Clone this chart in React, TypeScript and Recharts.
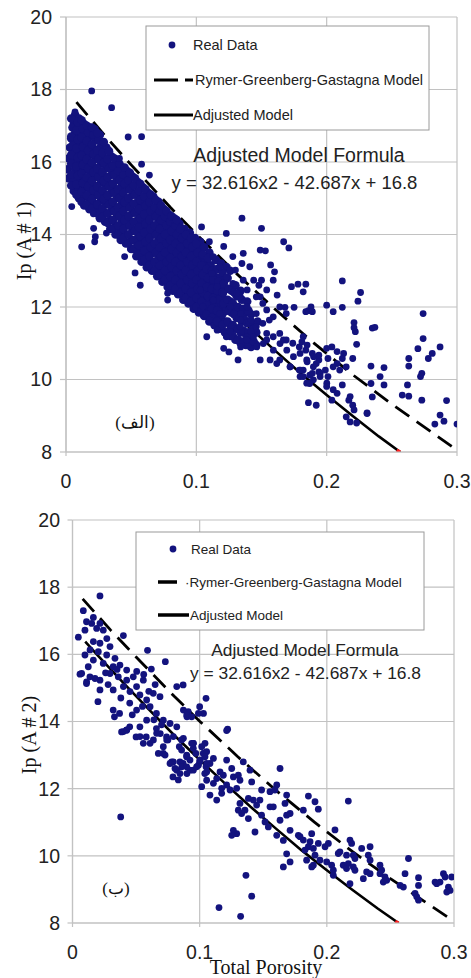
import React from 'react';
import { ComposedChart, Scatter, Line, XAxis, YAxis, CartesianGrid } from 'recharts';

const xTicks = [0, 0.1, 0.2, 0.3];
const yTicks = [8, 10, 12, 14, 16, 18, 20];

const adjustedModelX = [0.01, 0.02, 0.04, 0.06, 0.08, 0.1, 0.12, 0.14, 0.16, 0.18, 0.2, 0.22, 0.24, 0.2564];
const adjustedModelY = [16.38, 15.96, 15.15, 14.36, 13.59, 12.86, 12.15, 11.46, 10.81, 10.17, 9.57, 8.99, 8.43, 8.0];

const rggModelX = [0.008, 0.03, 0.05, 0.08, 0.1, 0.13, 0.16, 0.19, 0.22, 0.25, 0.28, 0.3];
const rggModelY = [17.65, 16.72, 15.92, 14.75, 14.01, 12.95, 11.95, 11.01, 10.13, 9.32, 8.56, 8.05];

const redTipX = [0.2538, 0.2564];
const redTipY = [8.05, 8.0];

// Top panel: the dense, overlapping core of the real data
const topCoreData: [number, number][] = [
  [0.001,15.8],[0.002,16.1],[0.003,16.4],[0.002,15.55],[0.004,16.65],
  [0.006,15.2],[0.006,15.5],[0.007,15.8],[0.006,16.05],[0.007,16.3],[0.006,16.55],[0.007,16.8],[0.006,17.05],[0.007,17.3],
  [0.010,15.0],[0.010,15.25],[0.011,15.5],[0.010,15.75],[0.011,16.0],[0.010,16.25],[0.011,16.5],[0.010,16.75],[0.011,17.0],[0.010,17.2],
  [0.014,14.8],[0.014,15.05],[0.015,15.3],[0.014,15.55],[0.015,15.8],[0.014,16.05],[0.015,16.3],[0.014,16.55],[0.015,16.8],[0.014,17.05],
  [0.018,14.7],[0.018,14.95],[0.019,15.2],[0.018,15.45],[0.019,15.7],[0.018,15.95],[0.019,16.2],[0.018,16.45],[0.019,16.7],[0.018,16.95],
  [0.022,14.6],[0.022,14.85],[0.023,15.1],[0.022,15.35],[0.023,15.6],[0.022,15.85],[0.023,16.1],[0.022,16.35],[0.023,16.6],[0.022,16.9],
  [0.026,14.45],[0.026,14.7],[0.027,14.95],[0.026,15.2],[0.027,15.45],[0.026,15.7],[0.027,15.95],[0.026,16.2],[0.027,16.45],[0.026,16.75],
  [0.030,14.35],[0.030,14.6],[0.031,14.85],[0.030,15.1],[0.031,15.35],[0.030,15.6],[0.031,15.85],[0.030,16.1],[0.031,16.4],
  [0.034,14.15],[0.034,14.4],[0.035,14.65],[0.034,14.9],[0.035,15.15],[0.034,15.4],[0.035,15.65],[0.034,15.9],[0.035,16.15],
  [0.038,14.0],[0.038,14.25],[0.039,14.5],[0.038,14.75],[0.039,15.0],[0.038,15.25],[0.039,15.5],[0.038,15.75],[0.039,16.0],
  [0.042,13.85],[0.042,14.1],[0.043,14.35],[0.042,14.6],[0.043,14.85],[0.042,15.1],[0.043,15.35],[0.042,15.6],[0.043,15.85],
  [0.046,13.75],[0.046,14.0],[0.047,14.25],[0.046,14.5],[0.047,14.75],[0.046,15.0],[0.047,15.25],[0.046,15.5],[0.047,15.75],
  [0.050,13.6],[0.050,13.85],[0.051,14.1],[0.050,14.35],[0.051,14.6],[0.050,14.85],[0.051,15.1],[0.050,15.35],[0.051,15.6],
  [0.054,13.4],[0.054,13.65],[0.055,13.9],[0.054,14.15],[0.055,14.4],[0.054,14.65],[0.055,14.9],[0.054,15.15],[0.055,15.45],
  [0.058,13.25],[0.058,13.5],[0.059,13.75],[0.058,14.0],[0.059,14.25],[0.058,14.5],[0.059,14.75],[0.058,15.0],[0.059,15.3],
  [0.062,13.1],[0.062,13.35],[0.063,13.6],[0.062,13.85],[0.063,14.1],[0.062,14.35],[0.063,14.6],[0.062,14.85],[0.063,15.15],
  [0.066,13.0],[0.066,13.25],[0.067,13.5],[0.066,13.75],[0.067,14.0],[0.066,14.25],[0.067,14.5],[0.066,14.75],[0.067,15.05],
  [0.070,12.85],[0.070,13.1],[0.071,13.35],[0.070,13.6],[0.071,13.85],[0.070,14.1],[0.071,14.35],[0.070,14.6],[0.071,14.9],
  [0.074,12.7],[0.074,12.95],[0.075,13.2],[0.074,13.45],[0.075,13.7],[0.074,13.95],[0.075,14.2],[0.074,14.45],[0.075,14.7],
  [0.078,12.55],[0.078,12.8],[0.079,13.05],[0.078,13.3],[0.079,13.55],[0.078,13.8],[0.079,14.05],[0.078,14.3],[0.079,14.55],
  [0.082,12.45],[0.082,12.7],[0.083,12.95],[0.082,13.2],[0.083,13.45],[0.082,13.7],[0.083,13.95],[0.082,14.2],[0.083,14.45],
  [0.086,12.35],[0.086,12.6],[0.087,12.85],[0.086,13.1],[0.087,13.35],[0.086,13.6],[0.087,13.85],[0.086,14.1],[0.087,14.3],
  [0.090,12.2],[0.090,12.45],[0.091,12.7],[0.090,12.95],[0.091,13.2],[0.090,13.45],[0.091,13.7],[0.090,13.95],[0.091,14.15],
  [0.094,12.1],[0.094,12.35],[0.095,12.6],[0.094,12.85],[0.095,13.1],[0.094,13.35],[0.095,13.6],[0.094,13.85],[0.095,14.05],
  [0.098,11.95],[0.098,12.2],[0.099,12.45],[0.098,12.7],[0.099,12.95],[0.098,13.2],[0.099,13.45],[0.098,13.7],[0.099,13.9],
  [0.102,11.85],[0.102,12.1],[0.103,12.35],[0.102,12.6],[0.103,12.85],[0.102,13.1],[0.103,13.35],[0.102,13.6],[0.103,13.8],
  [0.106,11.75],[0.106,12.0],[0.107,12.25],[0.106,12.5],[0.107,12.75],[0.106,13.0],[0.107,13.25],[0.106,13.65],
  [0.110,11.6],[0.110,11.9],[0.111,12.15],[0.110,12.4],[0.111,12.65],[0.110,12.9],[0.111,13.15],[0.110,13.5],
  [0.114,11.5],[0.114,11.8],[0.115,12.1],[0.114,12.35],[0.115,12.6],[0.114,12.85],[0.115,13.3],
  [0.118,11.4],[0.118,11.7],[0.119,12.0],[0.118,12.3],[0.119,12.55],[0.118,12.8],[0.119,13.2],
  [0.122,11.3],[0.122,11.6],[0.123,11.9],[0.122,12.2],[0.123,12.5],[0.122,12.75],[0.123,13.1],
  [0.126,11.2],[0.126,11.5],[0.127,11.85],[0.126,12.15],[0.127,12.45],[0.126,13.0],
  [0.130,11.1],[0.130,11.4],[0.131,11.7],[0.130,12.0],[0.131,12.3],[0.130,12.6],
  [0.134,11.0],[0.134,11.3],[0.135,11.6],[0.134,11.9],[0.135,12.2],[0.134,12.45],
  [0.138,10.95],[0.138,11.25],[0.139,11.55],[0.138,11.85],[0.139,12.15],
  [0.142,10.9],[0.142,11.2],[0.143,11.5],[0.142,11.8],
  [0.146,10.95],[0.146,11.3],[0.147,11.6],
  [0.004,15.35],[0.004,15.65],[0.004,15.95],[0.004,16.2],[0.005,16.45],[0.004,16.7],[0.005,16.95],[0.004,17.2],
  [0.008,15.1],[0.008,15.38],[0.009,15.62],[0.008,15.88],[0.009,16.12],[0.008,16.38],[0.009,16.62],[0.008,16.88],[0.009,17.1],
  [0.012,14.9],[0.012,15.18],[0.013,15.42],[0.012,15.68],[0.013,15.92],[0.012,16.18],[0.013,16.42],[0.012,16.68],[0.013,16.92],[0.012,17.15],
  [0.016,14.82],[0.016,15.08],[0.017,15.32],[0.016,15.58],[0.017,15.82],[0.016,16.08],[0.017,16.32],[0.016,16.58],[0.017,16.82],[0.016,17.0],
  [0.020,14.72],[0.020,14.98],[0.021,15.22],[0.020,15.48],[0.021,15.72],[0.020,15.98],[0.021,16.22],[0.020,16.48],[0.021,16.75],[0.020,16.95],
  [0.024,14.58],[0.024,14.82],[0.025,15.08],[0.024,15.32],[0.025,15.58],[0.024,15.82],[0.025,16.08],[0.024,16.32],[0.025,16.6],[0.024,16.8],
  [0.028,14.48],[0.028,14.72],[0.029,14.98],[0.028,15.22],[0.029,15.48],[0.028,15.72],[0.029,15.98],[0.028,16.25],[0.029,16.55],
  [0.032,14.32],[0.032,14.58],[0.033,14.82],[0.032,15.08],[0.033,15.32],[0.032,15.58],[0.033,15.82],[0.032,16.08],[0.033,16.3],
  [0.036,14.15],[0.036,14.4],[0.037,14.65],[0.036,14.9],[0.037,15.15],[0.036,15.4],[0.037,15.65],[0.036,15.9],[0.037,16.1],
  [0.040,14.0],[0.040,14.25],[0.041,14.5],[0.040,14.75],[0.041,15.0],[0.040,15.25],[0.041,15.5],[0.040,15.75],[0.041,15.95],
  [0.044,13.9],[0.044,14.15],[0.045,14.4],[0.044,14.65],[0.045,14.9],[0.044,15.15],[0.045,15.4],[0.044,15.65],[0.045,15.85],
  [0.048,13.75],[0.048,14.0],[0.049,14.25],[0.048,14.5],[0.049,14.75],[0.048,15.0],[0.049,15.25],[0.048,15.5],[0.049,15.7],
  [0.052,13.6],[0.052,13.85],[0.053,14.1],[0.052,14.35],[0.053,14.6],[0.052,14.85],[0.053,15.1],[0.052,15.35],[0.053,15.55],
  [0.056,13.45],[0.056,13.7],[0.057,13.95],[0.056,14.2],[0.057,14.45],[0.056,14.7],[0.057,14.95],[0.056,15.2],[0.057,15.4],
  [0.060,13.3],[0.060,13.55],[0.061,13.8],[0.060,14.05],[0.061,14.3],[0.060,14.55],[0.061,14.8],[0.060,15.05],[0.061,15.25],
  [0.064,13.15],[0.064,13.4],[0.065,13.65],[0.064,13.9],[0.065,14.15],[0.064,14.4],[0.065,14.65],[0.064,14.9],[0.065,15.1],
  [0.068,13.0],[0.068,13.25],[0.069,13.5],[0.068,13.75],[0.069,14.0],[0.068,14.25],[0.069,14.5],[0.068,14.75],[0.069,14.95],
  [0.072,12.9],[0.072,13.15],[0.073,13.4],[0.072,13.65],[0.073,13.9],[0.072,14.15],[0.073,14.4],[0.072,14.65],[0.073,14.8],
  [0.076,12.75],[0.076,13.0],[0.077,13.25],[0.076,13.5],[0.077,13.75],[0.076,14.0],[0.077,14.25],[0.076,14.5],[0.077,14.65],
  [0.080,12.6],[0.080,12.85],[0.081,13.1],[0.080,13.35],[0.081,13.6],[0.080,13.85],[0.081,14.1],[0.080,14.35],[0.081,14.5],
  [0.084,12.5],[0.084,12.75],[0.085,13.0],[0.084,13.25],[0.085,13.5],[0.084,13.75],[0.085,14.0],[0.084,14.25],[0.085,14.4],
  [0.088,12.4],[0.088,12.65],[0.089,12.9],[0.088,13.15],[0.089,13.4],[0.088,13.65],[0.089,13.9],[0.088,14.15],
  [0.092,12.25],[0.092,12.5],[0.093,12.75],[0.092,13.0],[0.093,13.25],[0.092,13.5],[0.093,13.75],[0.092,14.0],
  [0.096,12.15],[0.096,12.4],[0.097,12.65],[0.096,12.9],[0.097,13.15],[0.096,13.4],[0.097,13.65],[0.096,13.9],
  [0.100,12.0],[0.100,12.25],[0.101,12.5],[0.100,12.75],[0.101,13.0],[0.100,13.25],[0.101,13.5],[0.100,13.75],
  [0.104,11.9],[0.104,12.15],[0.105,12.4],[0.104,12.65],[0.105,12.9],[0.104,13.15],[0.105,13.45],
  [0.108,11.8],[0.108,12.05],[0.109,12.3],[0.108,12.55],[0.109,12.8],[0.108,13.05],[0.109,13.35],
  [0.112,11.7],[0.112,11.95],[0.113,12.25],[0.112,12.5],[0.113,12.75],[0.112,13.0],
  [0.116,11.6],[0.116,11.9],[0.117,12.2],[0.116,12.45],[0.117,12.7],[0.116,13.05],
  [0.120,11.5],[0.120,11.8],[0.121,12.1],[0.120,12.4],[0.121,12.65],[0.120,12.95],
  [0.124,11.3],[0.124,11.6],[0.125,11.9],[0.124,12.2],[0.125,12.5],[0.124,12.8],
  [0.128,11.2],[0.128,11.5],[0.129,11.8],[0.128,12.1],[0.129,12.4],
  [0.132,11.1],[0.132,11.4],[0.133,11.7],[0.132,12.0],[0.133,12.3],
  [0.136,11.05],[0.136,11.35],[0.137,11.65],[0.136,11.95],
  [0.140,11.0],[0.140,11.3],[0.141,11.6],[0.140,11.9],
  [0.144,11.05],[0.144,11.4]
];

// Top panel: the scattered real data around the core
const topRealData: [number, number][] = [
  [0.0197,17.96],[0.035,17.5],[0.0069,17.38],[0.0477,16.69],[0.058,16.7],[0.041,16.1],[0.058,15.94],[0.064,15.64],
  [0.0044,14.77],[0.021,14.57],[0.012,13.66],[0.022,13.8],[0.0225,13.94],[0.0212,14.17],[0.031,14.04],
  [0.045,13.39],[0.053,12.94],[0.057,12.6],[0.078,12.38],[0.078,12.19],
  [0.135,14.45],[0.150,14.17],[0.104,14.21],[0.167,13.8],[0.171,13.63],
  [0.149,13.57],[0.153,13.55],[0.136,13.48],[0.135,13.2],[0.157,13.16],[0.160,12.97],[0.11,13.8],[0.150,12.74],[0.148,12.6],
  [0.173,12.56],[0.178,12.63],[0.184,12.63],[0.182,12.42],[0.162,12.33],[0.149,12.28],[0.168,11.99],[0.175,11.99],[0.184,11.87],[0.188,12.0],
  [0.134,10.9],[0.125,10.76],[0.121,10.86],[0.149,10.54],[0.132,10.54],[0.123,11.18],[0.126,11.32],
  [0.139,11.18],[0.142,11.32],[0.146,11.46],[0.151,11.55],[0.156,11.64],[0.154,11.09],[0.159,11.18],[0.164,11.27],
  [0.169,11.09],[0.174,11.0],[0.179,10.9],[0.184,10.81],[0.189,10.72],[0.194,10.54],
  [0.164,10.54],[0.172,10.35],[0.179,10.26],[0.187,10.12],[0.194,10.21],
  [0.134,11.82],[0.139,12.0],[0.142,11.64],[0.146,11.82],[0.154,11.92],[0.159,11.73],[0.164,12.0],[0.169,11.82],[0.151,12.1],
  [0.118,13.11],[0.123,12.83],[0.128,12.65],[0.116,12.56],[0.121,12.38],[0.131,12.38],[0.136,12.74],[0.113,12.19],[0.126,12.01],
  [0.139,12.47],[0.144,12.74],[0.118,11.82],[0.110,11.64],[0.105,12.01],[0.103,12.47],[0.141,13.11],[0.130,13.02],[0.112,12.93],
  [0.134,11.64],[0.146,12.28],[0.154,12.47],[0.159,12.74],[0.113,13.39],[0.121,13.67],[0.128,13.39],[0.123,14.03],[0.116,11.36],[0.108,11.18],
  [0.1335,11.46],[0.1387,11.09],[0.1438,11.18],[0.154,11.27],[0.1514,10.99],[0.1463,10.9],[0.1591,10.81],[0.1642,10.99],[0.1694,10.81],
  [0.1745,10.63],[0.1796,10.72],[0.1847,10.54],[0.1898,10.35],[0.195,10.17],[0.1719,10.35],[0.1668,11.09],[0.1617,10.44],[0.1566,10.54],
  [0.1796,10.08],[0.1847,9.9],[0.1898,9.99],[0.2001,9.9],
  [0.212,12.72],[0.226,12.40],[0.224,12.16],[0.200,12.05],[0.205,11.87],[0.212,11.99],[0.186,11.9],[0.189,11.87],
  [0.221,11.57],[0.221,11.43],[0.222,11.32],[0.235,11.42],[0.237,11.44],[0.274,11.82],[0.274,11.13],[0.270,10.85],
  [0.278,10.58],[0.281,10.72],[0.287,10.9],[0.223,10.97],[0.263,10.58],[0.263,10.37],[0.262,9.85],[0.258,9.57],[0.263,9.54],
  [0.273,10.17],[0.272,10.08],[0.273,9.43],[0.292,9.42],[0.287,9.02],[0.290,8.85],[0.283,8.77],[0.300,8.77],
  [0.234,10.37],[0.244,10.33],[0.241,10.08],[0.244,9.85],[0.234,9.89],[0.235,9.52],[0.231,9.08],
  [0.220,10.58],[0.213,10.72],[0.208,10.77],[0.204,10.9],[0.200,10.86],[0.212,10.58],[0.208,10.44],[0.215,10.35],[0.205,10.35],
  [0.210,10.26],[0.201,10.58],[0.194,10.67],[0.192,10.44],[0.190,10.63],[0.185,10.49],[0.182,10.26],[0.189,10.17],[0.195,10.08],
  [0.199,10.26],[0.201,10.08],[0.181,11.04],[0.185,10.95],[0.182,11.18],
  [0.200,9.81],[0.205,9.72],[0.208,9.62],[0.204,9.43],[0.212,9.85],[0.218,9.53],[0.217,9.43],[0.220,9.29],[0.221,9.16],
  [0.215,8.97],[0.218,8.83],[0.223,8.8],[0.231,9.06],[0.186,9.36],[0.192,9.29],[0.180,10.26],[0.182,10.08],[0.187,9.89]
];

const bottomRealData: [number, number][] = [
  [0.0216,17.74],[0.0085,17.30],[0.0164,17.10],[0.0151,16.92],[0.0216,16.92],[0.0242,16.72],[0.011,16.97],[0.019,16.77],[0.0098,16.72],
  [0.027,16.47],[0.0046,16.51],[0.040,16.56],[0.059,16.12],[0.073,15.78],[0.0505,15.49],[0.062,15.56],[0.0059,15.41],[0.011,15.13],
  [0.0216,15.23],[0.0137,15.33],[0.0177,15.28],[0.082,15.04],[0.087,15.09],[0.0216,14.94],[0.020,14.59],[0.105,14.69],[0.091,14.29],
  [0.09,14.14],[0.103,14.24],[0.100,14.44],[0.053,13.84],[0.045,13.84],[0.0386,13.69],[0.0425,13.74],[0.033,14.14],[0.037,14.24],
  [0.032,14.34],[0.050,13.54],[0.058,13.54],[0.061,13.35],[0.069,13.64],[0.066,13.79],[0.074,13.54],
  [0.0714,13.05],[0.078,12.8],[0.082,12.55],[0.079,12.35],[0.087,12.75],[0.090,12.95],[0.084,13.25],[0.095,13.35],[0.100,12.8],
  [0.097,13.05],[0.103,13.05],[0.104,12.45],[0.105,12.65],[0.090,12.45],[0.075,13.45],
  [0.0164,16.38],[0.0216,16.33],[0.0295,16.23],[0.0138,16.13],[0.0203,16.08],[0.0269,15.98],[0.0334,15.88],[0.0098,15.98],[0.0164,15.83],
  [0.0242,15.73],[0.032,15.63],[0.0124,15.63],[0.0373,15.68],[0.0426,15.53],[0.0295,15.43],[0.036,15.33],[0.0426,15.23],[0.0478,15.33],
  [0.040,15.04],[0.0452,14.89],[0.032,14.94],[0.0504,15.04],[0.0557,15.23],[0.053,14.79],[0.0583,14.64],[0.0635,14.84],[0.0688,14.74],
  [0.061,14.44],[0.0504,14.34],[0.066,14.24],[0.0714,14.04],[0.0583,14.04],[0.0767,13.94],[0.082,13.84],
  [0.0072,15.43],[0.0111,15.18],[0.122,13.77],
  [0.038,14.7],[0.045,14.55],[0.055,14.45],[0.064,14.05],[0.07,13.9],[0.047,14.2],[0.028,15.1],[0.035,15.55],[0.026,15.45],
  [0.06,14.9],[0.056,15.4],[0.065,15.1],
  [0.0872,14.34],[0.0898,14.19],[0.099,14.24],[0.0937,14.14],[0.1212,13.73],
  [0.0872,13.5],[0.095,13.35],[0.095,13.2],[0.1042,13.35],[0.103,13.05],[0.1055,13.1],[0.1003,12.85],[0.0924,12.85],[0.0898,13.0],
  [0.0845,12.8],[0.0859,12.65],[0.0924,12.55],[0.099,12.7],[0.1081,12.75],[0.1108,12.9],[0.1055,12.5],[0.116,12.5],[0.1186,12.4],
  [0.1134,12.3],[0.1212,12.11],[0.1173,12.01],[0.1108,12.16],[0.1016,12.06],[0.1055,12.25],[0.1081,11.81],[0.1134,11.66],[0.1173,11.86],
  [0.1239,11.96],[0.1291,12.01],[0.1317,12.25],[0.1265,12.35],[0.1212,12.85],[0.1252,12.6],[0.1304,12.4],[0.1343,12.8],[0.1396,12.55],
  [0.1409,12.2],[0.1487,11.96],[0.1383,11.71],[0.1317,11.56],[0.1356,11.36],[0.1422,11.66],[0.1448,11.51],[0.1474,11.66],[0.1553,11.91],
  [0.1606,12.11],[0.1592,11.96],[0.1553,11.46],[0.1579,11.46],[0.1632,12.6],[0.1684,11.81],[0.1671,11.56],[0.1711,11.26],[0.1684,11.21],
  [0.1632,11.06],[0.1514,11.01],[0.1487,11.21],[0.154,10.86],[0.1606,10.61],[0.1658,10.46],[0.1711,10.76],[0.1776,10.61],
  [0.1881,10.66],[0.1711,9.82],[0.1684,10.06],[0.1658,9.67],[0.1435,10.71],[0.1383,11.11],[0.1291,10.66],[0.1265,10.76],[0.1252,10.61],
  [0.133,11.26],[0.1304,11.36],
  [0.1364,9.42],[0.1409,8.8],[0.1152,8.46],[0.1322,8.2],[0.0379,11.16],
  [0.1855,11.78],[0.1907,11.61],[0.1933,11.39],[0.1815,11.36],[0.2169,11.63],[0.2064,10.77],
  [0.1789,10.57],[0.1815,10.47],[0.1868,10.42],[0.1855,10.27],[0.1828,10.17],[0.1894,10.22],[0.1933,10.37],[0.1986,10.27],[0.2012,10.37],
  [0.1907,10.02],[0.1946,9.87],[0.1999,9.82],[0.2038,9.72],[0.2051,9.57],[0.2051,9.42],[0.1894,9.72],[0.1881,9.67],[0.1841,9.87],
  [0.2090,10.07],[0.2103,10.12],[0.2155,10.02],[0.2182,10.47],[0.2195,10.37],[0.2208,10.02],[0.2221,9.92],[0.2169,9.77],[0.2129,9.72],
  [0.2155,9.62],[0.2208,9.67],[0.2221,9.57],[0.2182,9.17],[0.2274,10.22],[0.234,10.27],[0.2326,10.02],[0.234,9.87],[0.2313,9.52],
  [0.2287,9.32],[0.2418,9.72],[0.2431,9.57],[0.2457,9.37],[0.2444,9.22],[0.2471,9.27],[0.234,9.47],[0.2418,9.47],
  [0.2642,9.92],[0.2615,9.47],[0.2576,9.12],[0.2602,9.07],[0.2721,9.35],[0.2721,9.12],[0.2707,8.78],[0.2721,8.68],[0.2694,8.88],
  [0.2851,9.22],[0.2864,9.17],[0.289,9.22],[0.2917,9.47],[0.293,9.37],[0.2982,9.37],[0.2956,9.07],[0.2969,8.97],[0.2943,8.92],
  [0.0400,13.7],[0.0426,13.75],[0.0531,13.55],[0.0557,13.35],[0.0636,13.45],[0.0662,13.65],[0.0714,13.25],[0.0741,13.45],[0.0793,13.55],
  [0.0858,13.45],[0.0858,13.15],[0.0898,12.95],[0.0937,13.35],[0.0898,12.65],[0.0793,12.8],[0.0806,12.6],[0.0832,12.26],[0.0845,12.45],
  [0.0767,12.75],[0.0728,13.0],[0.0675,13.05],[0.0950,12.55],[0.0976,12.65],[0.1003,12.85],[0.1016,13.25],[0.1055,12.75],[0.1042,12.95]
];

const NAVY = '#13137e';
const GRID = '#c2c2c2';
const SANS = '"Liberation Sans", Arial, sans-serif';
const SERIF = '"Liberation Serif", "Times New Roman", "DejaVu Serif", serif';

const toXY = (xs: number[], ys: number[]) => xs.map((x, i) => ({ x, y: ys[i] }));
const adjustedLine = toXY(adjustedModelX, adjustedModelY);
const rggLine = toXY(rggModelX, rggModelY);
const redTip = toXY(redTipX, redTipY);

const Dot = (p: any) => (p.cx == null ? null : <circle cx={p.cx} cy={p.cy} r={3.4} fill={NAVY} />);
const CoreDot = (p: any) => (p.cx == null ? null : <circle cx={p.cx} cy={p.cy} r={4.3} fill={NAVY} />);

type PanelProps = {
  points: [number, number][];
  core?: [number, number][];
  top: number;
  height: number;
  margin: { top: number; right: number; bottom: number; left: number };
  yWidth: number;
  yTickSize: number;
  yTickMargin: number;
};

function Panel({ points, core, top, height, margin, yWidth, yTickSize, yTickMargin }: PanelProps) {
  const data = points.map(([x, y]) => ({ x, y }));
  const coreData = (core || []).map(([x, y]) => ({ x, y }));
  const tickStyle = { fill: '#222', fontSize: 19.5, fontFamily: SANS };
  return (
    <div style={{ position: 'absolute', left: 0, top, width: 471, height }}>
      <ComposedChart width={471} height={height} margin={margin}>
        <CartesianGrid stroke={GRID} strokeWidth={1.2} />
        <XAxis
          type="number"
          dataKey="x"
          domain={[0, 0.3]}
          ticks={xTicks}
          interval={0}
          allowDataOverflow
          tickFormatter={(v: number) => String(v)}
          axisLine={{ stroke: GRID, strokeWidth: 1.2 }}
          tickLine={{ stroke: GRID, strokeWidth: 1.2 }}
          tickSize={4}
          tickMargin={18}
          height={30}
          tick={tickStyle}
        />
        <YAxis
          type="number"
          dataKey="y"
          domain={[8, 20]}
          ticks={yTicks}
          interval={0}
          allowDataOverflow
          axisLine={{ stroke: GRID, strokeWidth: 1.2 }}
          tickLine={{ stroke: GRID, strokeWidth: 1.2 }}
          tickSize={yTickSize}
          tickMargin={yTickMargin}
          width={yWidth}
          tick={tickStyle}
        />
        {coreData.length > 0 && <Scatter data={coreData} dataKey="y" shape={CoreDot} isAnimationActive={false} />}
        <Scatter data={data} dataKey="y" shape={Dot} isAnimationActive={false} />
        <Line data={rggLine} dataKey="y" type="linear" stroke="#000" strokeWidth={2.8} strokeDasharray="17 9" dot={false} isAnimationActive={false} />
        <Line data={adjustedLine} dataKey="y" type="linear" stroke="#000" strokeWidth={2.6} dot={false} isAnimationActive={false} />
        <Line data={redTip} dataKey="y" type="linear" stroke="#ff2020" strokeWidth={3.2} dot={false} isAnimationActive={false} />
      </ComposedChart>
    </div>
  );
}

export default function App() {
  return (
    <div style={{ position: 'absolute', left: 0, top: 0, width: 471, height: 978, background: '#fff', overflow: 'hidden' }}>
      <Panel
        points={topRealData}
        core={topCoreData}
        top={0}
        height={500}
        margin={{ top: 17, right: 14, bottom: 18, left: 0 }}
        yWidth={66}
        yTickSize={6}
        yTickMargin={8}
      />
      <Panel
        points={bottomRealData}
        top={495}
        height={483}
        margin={{ top: 25, right: 17, bottom: 25, left: 0 }}
        yWidth={72.5}
        yTickSize={5}
        yTickMargin={7.5}
      />
      <svg width={471} height={978} style={{ position: 'absolute', left: 0, top: 0, pointerEvents: 'none' }}>
        <rect x={146} y={26} width={283} height={104} fill="#fff" stroke="#9a9a9a" strokeWidth={1} />
        <circle cx={172} cy={45} r={3.4} fill={NAVY} />
        <text x={193} y={45} dominantBaseline="central" fontFamily={SANS} fontSize={14.5} fill="#222">Real Data</text>
        <line x1={154} y1={80} x2={178} y2={80} stroke="#000" strokeWidth={3} />
        <line x1={185} y1={80} x2={193} y2={80} stroke="#000" strokeWidth={3} />
        <text x={195} y={80} dominantBaseline="central" fontFamily={SANS} fontSize={14.5} fill="#222">Rymer-Greenberg-Gastagna Model</text>
        <line x1={154} y1={115} x2={193} y2={115} stroke="#000" strokeWidth={3} />
        <text x={193} y={115} dominantBaseline="central" fontFamily={SANS} fontSize={14.5} fill="#222">Adjusted Model</text>
        <text x={299} y={155} textAnchor="middle" dominantBaseline="central" fontFamily={SANS} fontSize={19.5} fill="#222">Adjusted Model Formula</text>
        <text x={294.5} y={182} textAnchor="middle" dominantBaseline="central" fontFamily={SANS} fontSize={18.5} fill="#222">y = 32.616x2 - 42.687x + 16.8</text>
        <text x={135} y={422} textAnchor="middle" dominantBaseline="central" fontFamily={SERIF} fontSize={17} fill="#111">(الف)</text>
        <text x={24} y={241} textAnchor="middle" dominantBaseline="central" fontFamily={SERIF} fontSize={20} fill="#111" transform="rotate(-90, 24, 241)">Ip (A # 1)</text>

        <rect x={136} y={532} width={288} height={98} fill="#fff" stroke="#9a9a9a" strokeWidth={1} />
        <circle cx={173} cy={549} r={3.4} fill={NAVY} />
        <text x={191} y={549} dominantBaseline="central" fontFamily={SANS} fontSize={13.5} fill="#222">Real Data</text>
        <line x1={158} y1={582} x2={177} y2={582} stroke="#000" strokeWidth={3.5} />
        <text x={185} y={582} dominantBaseline="central" fontFamily={SANS} fontSize={13.5} fill="#222">·Rymer-Greenberg-Gastagna Model</text>
        <line x1={158} y1={615} x2={189} y2={615} stroke="#000" strokeWidth={3.5} />
        <text x={190} y={615} dominantBaseline="central" fontFamily={SANS} fontSize={13.5} fill="#222">Adjusted Model</text>
        <text x={305} y={650} textAnchor="middle" dominantBaseline="central" fontFamily={SANS} fontSize={17.3} fill="#222">Adjusted Model Formula</text>
        <text x={305.5} y={673} textAnchor="middle" dominantBaseline="central" fontFamily={SANS} fontSize={17.4} fill="#222">y = 32.616x2 - 42.687x + 16.8</text>
        <text x={116} y={888} textAnchor="middle" dominantBaseline="central" fontFamily={SERIF} fontSize={17} fill="#111">(ب)</text>
        <text x={29} y={735} textAnchor="middle" dominantBaseline="central" fontFamily={SERIF} fontSize={20} fill="#111" transform="rotate(-90, 29, 735)">Ip (A # 2)</text>
        <text x={266} y={967} textAnchor="middle" dominantBaseline="central" fontFamily={SERIF} fontSize={20} fill="#111">Total Porosity</text>
      </svg>
    </div>
  );
}
